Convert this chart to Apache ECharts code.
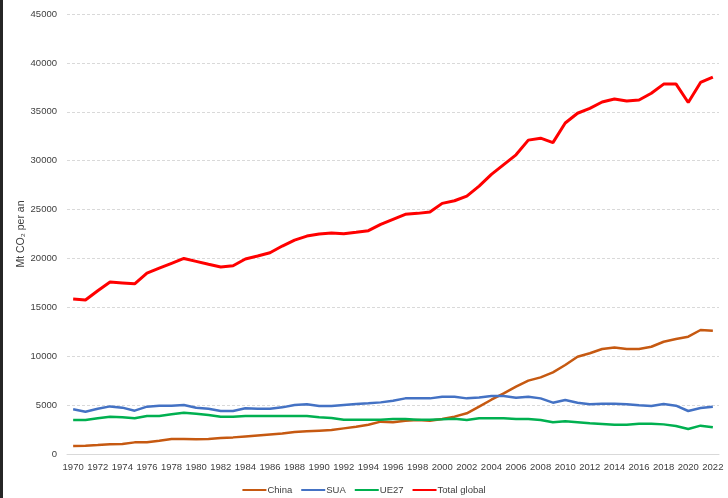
<!DOCTYPE html>
<html>
<head>
<meta charset="utf-8">
<script src="https://cdn.jsdelivr.net/npm/echarts@6/dist/echarts.min.js"></script>
<style>
  html, body { margin: 0; padding: 0; background: #fff; }
  #wrap { position: relative; width: 728px; height: 498px; }
  #chart { width: 728px; height: 498px; }
  #edge { position: absolute; left: 0; top: 0; width: 3px; height: 498px; background: #262626; }
</style>
</head>
<body>
<div id="wrap">
  <div id="chart"></div>
  <div id="edge"></div>
</div>
<script>
const years = [];
for (let y = 1970; y <= 2022; y++) years.push(String(y));

const china = [820, 850, 920, 1000, 1020, 1190, 1200, 1360, 1530, 1530, 1520, 1540, 1630, 1700, 1800,
  1900, 2000, 2100, 2250, 2320, 2390, 2450, 2620, 2790, 3000, 3310, 3240, 3410, 3480, 3410,
  3580, 3820, 4160, 4840, 5550, 6200, 6890, 7500, 7840, 8350, 9100, 9950, 10300, 10740, 10900,
  10740, 10740, 10970, 11480, 11760, 12000, 12680, 12600];

const sua = [4570, 4330, 4630, 4870, 4740, 4430, 4840, 4940, 4940, 5010, 4740, 4630, 4400, 4400, 4670,
  4630, 4630, 4770, 5010, 5080, 4910, 4910, 5010, 5110, 5180, 5280, 5450, 5690, 5690, 5690,
  5860, 5860, 5690, 5790, 5930, 5930, 5760, 5860, 5690, 5250, 5520, 5250, 5080, 5150, 5150,
  5080, 4980, 4910, 5110, 4940, 4400, 4700, 4840];

const ue27 = [3480, 3480, 3650, 3820, 3750, 3650, 3890, 3890, 4060, 4230, 4120, 3990, 3820, 3820, 3890,
  3890, 3890, 3890, 3890, 3890, 3750, 3680, 3510, 3510, 3510, 3510, 3580, 3580, 3510, 3500,
  3550, 3610, 3480, 3650, 3650, 3650, 3580, 3580, 3480, 3240, 3340, 3240, 3140, 3070, 3000,
  3000, 3100, 3100, 3030, 2860, 2560, 2900, 2730];

const totalGlobal = [15850, 15750, 16700, 17600, 17500, 17400, 18500, 19000, 19500, 20000, 19700, 19400, 19120, 19250, 19940,
  20250, 20580, 21270, 21880, 22290, 22500, 22600, 22530, 22670, 22840, 23490, 24000, 24510, 24610, 24740,
  25630, 25900, 26380, 27400, 28600, 29600, 30600, 32100, 32300, 31850, 33850, 34850, 35350, 36000, 36300,
  36100, 36200, 36900, 37830, 37850, 35950, 38000, 38550];

const seriesNames = ['China', 'SUA', 'UE27', 'Total global'];
const seriesColors = ['#C65911', '#4472C4', '#00B050', '#FF0000'];
const seriesData = [china, sua, ue27, totalGlobal];

const font = "'Liberation Sans', Arial, sans-serif";
const textColor = '#404040';
const chart = echarts.init(document.getElementById('chart'));

chart.setOption({
  animation: false,
  textStyle: { fontFamily: font },
  grid: { left: 67, right: 9, top: 14, bottom: 44 },
  legend: {
    bottom: 3,
    left: 'center',
    padding: 0,
    icon: 'rect',
    itemWidth: 24,
    itemHeight: 2,
    itemGap: 9,
    textStyle: { fontSize: 9.5, color: textColor, fontFamily: font, padding: [0, 0, 0, -4] },
    data: seriesNames
  },
  xAxis: {
    type: 'category',
    data: years,
    boundaryGap: true,
    axisLine: { lineStyle: { color: '#D9D9D9', width: 1 } },
    axisTick: { show: false },
    axisLabel: { interval: 1, color: textColor, fontSize: 9.5, margin: 8, fontFamily: font }
  },
  yAxis: {
    type: 'value',
    min: 0,
    max: 45000,
    interval: 5000,
    name: 'Mt CO\u2082 per an',
    nameLocation: 'middle',
    nameGap: 40,
    nameMoveOverlap: false,
    nameTextStyle: { color: textColor, fontSize: 10.5, fontFamily: font },
    axisLine: { show: false },
    axisTick: { show: false },
    axisLabel: { color: textColor, fontSize: 9.5, margin: 10, fontFamily: font, formatter: v => String(v) },
    splitLine: { lineStyle: { color: '#D9D9D9', type: [3, 2], width: 1 } }
  },
  series: seriesNames.map((name, i) => ({
    name: name,
    type: 'line',
    data: seriesData[i],
    symbol: 'none',
    color: seriesColors[i],
    lineStyle: { width: i === 3 ? 3 : 2.5, color: seriesColors[i] },
    z: i === 3 ? 3 : 2
  }))
});
</script>
</body>
</html>
